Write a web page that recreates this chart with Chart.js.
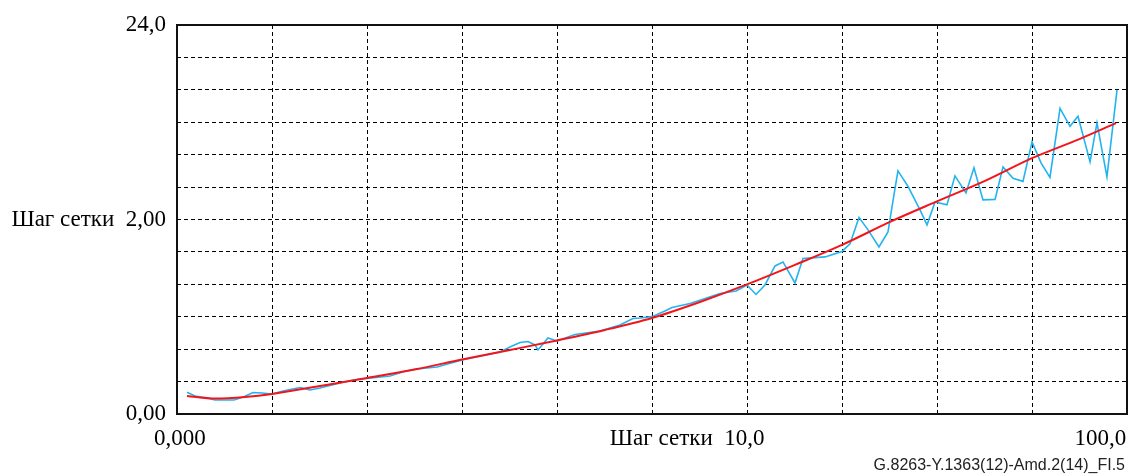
<!DOCTYPE html>
<html>
<head>
<meta charset="utf-8">
<script src="https://cdn.jsdelivr.net/npm/chart.js@4.4.1/dist/chart.umd.min.js"></script>
<style>
  html, body { margin: 0; padding: 0; background: #fff; }
  #wrap { width: 1131px; height: 475px; position: relative; }
</style>
</head>
<body>
<div id="wrap"><canvas id="stepChart"></canvas></div>
<script>
// grid units: 10 columns across, 12 rows up
const measX = [0.105, 0.189, 0.295, 0.4, 0.6, 0.705, 0.8, 0.895, 1.0, 1.116, 1.295, 1.4, 1.505, 1.758, 1.926, 2.0, 2.242, 2.389, 2.526, 2.737, 3.0, 3.4, 3.505, 3.611, 3.695, 3.768, 3.8, 3.905, 4.0, 4.189, 4.453, 4.663, 4.8, 4.874, 5.0, 5.137, 5.211, 5.4, 5.716, 5.884, 6.0, 6.095, 6.189, 6.295, 6.379, 6.505, 6.589, 6.821, 7.0, 7.084, 7.179, 7.274, 7.389, 7.484, 7.547, 7.589, 7.695, 7.821, 7.895, 7.979, 8.105, 8.189, 8.305, 8.389, 8.484, 8.611, 8.695, 8.8, 8.905, 9.0, 9.095, 9.189, 9.295, 9.4, 9.484, 9.611, 9.684, 9.789, 9.895];
const measY = [0.670, 0.556, 0.509, 0.432, 0.432, 0.534, 0.664, 0.648, 0.617, 0.710, 0.818, 0.741, 0.802, 0.988, 1.080, 1.096, 1.173, 1.312, 1.389, 1.451, 1.667, 1.914, 2.068, 2.207, 2.238, 2.130, 1.975, 2.346, 2.253, 2.454, 2.562, 2.747, 2.948, 2.963, 3.003, 3.179, 3.287, 3.410, 3.719, 3.796, 3.981, 3.688, 3.981, 4.568, 4.691, 4.043, 4.799, 4.846, 5.015, 5.247, 6.065, 5.679, 5.154, 5.617, 6.759, 7.500, 7.022, 6.296, 5.833, 6.543, 6.451, 7.346, 6.821, 7.593, 6.605, 6.620, 7.623, 7.269, 7.176, 8.395, 7.747, 7.299, 9.429, 8.873, 9.182, 7.778, 8.981, 7.315, 10.0];

const fitX = [0.105, 0.4, 0.716, 1.0, 1.505, 2.0, 2.526, 3.0, 3.505, 4.0, 4.505, 5.0, 5.505, 6.0, 6.505, 7.0, 7.505, 8.0, 8.505, 9.0, 9.505, 9.884];
const fitY = [0.556, 0.478, 0.525, 0.617, 0.864, 1.111, 1.389, 1.682, 1.975, 2.269, 2.593, 2.963, 3.457, 3.997, 4.599, 5.216, 5.926, 6.559, 7.191, 7.892, 8.488, 8.972];

const yTickLabels = { 0: "0,00", 6: "Шаг сетки\u00a0 2,00", 12: "24,0" };
const xTickLabels = ["0,000", "Шаг сетки\u00a0 10,0", "100,0"];
const xTickAt = [0.03, 5.37, 9.72];
const figCode = "G.8263-Y.1363(12)-Amd.2(14)_FI.5";

const serif = "'Liberation Serif', 'Times New Roman', serif";

const toPts = (xs, ys) => xs.map((x, i) => ({ x: x, y: ys[i] }));

// frame, x labels and figure code
const framePlugin = {
  id: "frame",
  afterDraw(chart) {
    const ctx = chart.ctx;
    const a = chart.chartArea;
    const xs = chart.scales.x;
    ctx.save();
    ctx.strokeStyle = "#111";
    ctx.lineWidth = 2;
    ctx.strokeRect(a.left, a.top, a.right - a.left, a.bottom - a.top);

    ctx.fillStyle = "#000";
    ctx.font = "23px " + serif;
    ctx.textAlign = "center";
    ctx.textBaseline = "middle";
    xTickLabels.forEach((t, i) => {
      ctx.fillText(t, xs.getPixelForValue(xTickAt[i]), a.bottom + 25);
    });

    ctx.fillStyle = "#222";
    ctx.font = "16px 'Liberation Sans', Arial, sans-serif";
    ctx.textAlign = "right";
    ctx.fillText(figCode, a.right - 2, 466);
    ctx.restore();
  },
};

const gridOpts = {
  color: "#000",
  lineWidth: 1,
  drawTicks: false,
};

const stepOptions = {
  maintainAspectRatio: false,
  responsive: true,
  animation: false,
  layout: { padding: { left: 0, top: 25, right: 4, bottom: 0 } },
  plugins: {
    legend: { display: false },
    tooltip: { enabled: false },
  },
  scales: {
    x: {
      type: "linear",
      min: 0,
      max: 10,
      grid: gridOpts,
      border: { display: false, dash: [4, 3] },
      ticks: { stepSize: 1, display: false },
      afterFit: (s) => { s.height = 61; },
    },
    y: {
      type: "linear",
      min: 0,
      max: 12,
      grid: gridOpts,
      border: { display: false, dash: [4, 3] },
      ticks: {
        stepSize: 1,
        padding: 11,
        color: "#000",
        font: { family: serif, size: 23 },
        callback: (v) => yTickLabels[v] ?? "",
      },
      afterFit: (s) => { s.width = 177; },
    },
  },
};

const stepCanvas = document.getElementById("stepChart").getContext("2d");
const stepChart = new Chart(stepCanvas, {
  type: "scatter",
  data: {
    datasets: [
      {
        data: toPts(measX, measY),
        showLine: true,
        borderColor: "#22b4ee",
        borderWidth: 1.6,
        pointRadius: 0,
        tension: 0,
        order: 2,
      },
      {
        data: toPts(fitX, fitY),
        showLine: true,
        borderColor: "#f2161c",
        borderWidth: 2,
        pointRadius: 0,
        cubicInterpolationMode: "monotone",
        order: 1,
      },
    ],
  },
  options: stepOptions,
  plugins: [framePlugin],
});
</script>
</body>
</html>
